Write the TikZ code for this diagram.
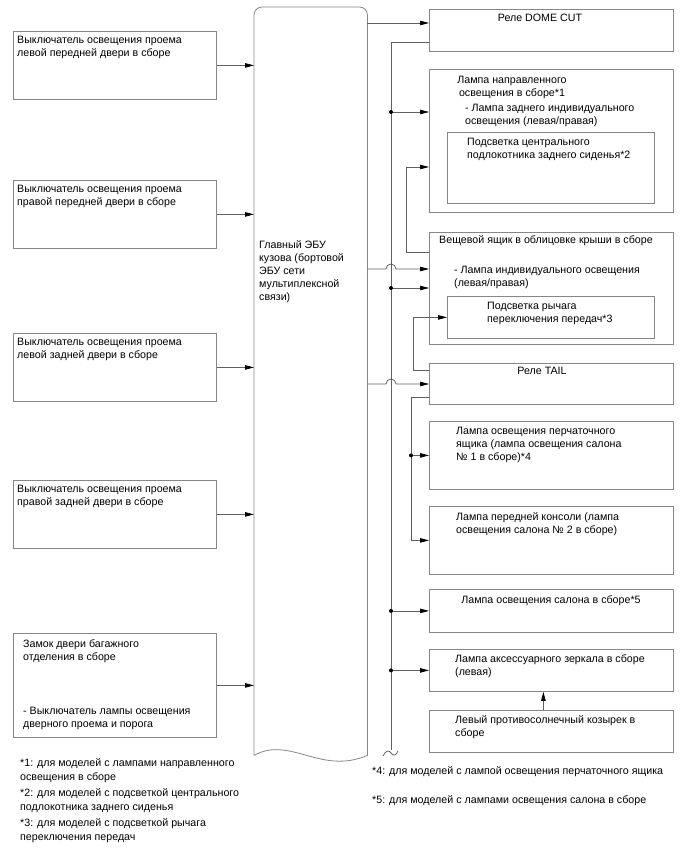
\documentclass[tikz,border=0pt]{standalone}
\usepackage{fontspec}
\setmainfont{Liberation Sans}
\usetikzlibrary{positioning,arrows.meta,calc}
\definecolor{linegray}{RGB}{95,95,95}
\definecolor{boxgray}{RGB}{135,135,135}

\begin{document}
\begin{tikzpicture}[
    x=1pt, y=-1pt,
    font=\fontsize{10.67}{13}\selectfont,
    lbox/.style={draw=boxgray, line width=0.8pt, anchor=north west, inner sep=0pt, minimum width=203pt, minimum height=#1},
    rbox/.style={draw=boxgray, line width=0.8pt, anchor=north west, inner sep=0pt, minimum width=244pt, minimum height=#1},
    ibox/.style={draw=boxgray, line width=0.8pt, anchor=north west, inner sep=0pt, minimum width=207pt, minimum height=#1},
    txt/.style={anchor=north west, inner sep=0pt, align=left},
    ctxt/.style={anchor=north, inner sep=0pt, align=center},
    note/.style={txt, font=\fontsize{10.67}{14}\selectfont},
    conn/.style={draw=linegray, line width=0.8pt},
    arr/.style={conn, -{Triangle[length=9pt,width=4.5pt,color=black]}},
    dot/.style={fill=black}
]
\useasboundingbox (0,0) rectangle (688,852);

% door switches
\node[lbox=68pt] (sw1) at (13,31) {};
\node[lbox=68pt] (sw2) at (13,180) {};
\node[lbox=68pt] (sw3) at (13,333) {};
\node[lbox=68pt] (sw4) at (13,480) {};
\node[lbox=104pt] (sw5) at (13,633) {};
\node[txt] (sw1t) at (17,36) {Выключатель освещения проема\\левой передней двери в сборе};
\node[txt] (sw2t) at (17,185) {Выключатель освещения проема\\правой передней двери в сборе};
\node[txt] (sw3t) at (17,338) {Выключатель освещения проема\\левой задней двери в сборе};
\node[txt] (sw4t) at (17,485) {Выключатель освещения проема\\правой задней двери в сборе};
\node[txt] (sw5t) at (23,639) {Замок двери багажного\\отделения в сборе\\[41pt]- Выключатель лампы освещения\\дверного проема и порога};

% main body ECU
\node[anchor=north west, inner sep=0pt, minimum width=113pt, minimum height=748pt] (ecu) at (254,7) {};
\draw[draw=boxgray, line width=0.8pt] (ecu.south west) [rounded corners=8pt] -- (ecu.north west) -- (ecu.north east) [sharp corners] -- (ecu.south east)
    .. controls ($(ecu.south east)+(-47,20)$) and ($(ecu.south west)+(36,-20)$) .. (ecu.south west);
\node[txt] (ecut) at (259,240) {Главный ЭБУ\\кузова (бортовой\\ЭБУ сети\\мультиплексной\\связи)};

% lamps and relays
\node[rbox=42pt] (dome) at (429,9) {};
\node[rbox=143pt] (dir) at (429,69) {};
\node[ibox=71pt] (arm) at (447,132) {};
\node[rbox=112pt] (roof) at (429,232) {};
\node[ibox=42pt] (gear) at (447,296) {};
\node[rbox=41pt] (tail) at (429,363) {};
\node[rbox=68pt] (glove) at (429,421) {};
\node[rbox=68pt] (console) at (429,506) {};
\node[rbox=43pt] (salon) at (429,589) {};
\node[rbox=42pt] (mirror) at (429,649) {};
\node[rbox=42pt] (visor) at (429,710) {};

\node[ctxt] (domet) at (540,14) {Реле DOME CUT};
\node[ctxt] (dirt) at (512,76) {Лампа направленного\\освещения в сборе*1};
\node[txt] (dirs) at (465,104) {- Лампа заднего индивидуального\\освещения (левая/правая)};
\node[txt] (armt) at (467,138) {Подсветка центрального\\подлокотника заднего сиденья*2};
\node[txt] (rooft) at (439,235) {Вещевой ящик в облицовке крыши в сборе};
\node[txt] (roofs) at (454,266) {- Лампа индивидуального освещения\\(левая/правая)};
\node[txt] (geart) at (487,302) {Подсветка рычага\\переключения передач*3};
\node[ctxt] (tailt) at (542,367) {Реле TAIL};
\node[txt] (glovet) at (456,427) {Лампа освещения перчаточного\\ящика (лампа освещения салона\\№ 1 в сборе)*4};
\node[txt] (consolet) at (456,512) {Лампа передней консоли (лампа\\освещения салона № 2 в сборе)};
\node[ctxt] (salont) at (551,595) {Лампа освещения салона в сборе*5};
\node[txt] (mirrort) at (455,654) {Лампа аксессуарного зеркала в сборе\\(левая)};
\node[txt] (visort) at (455,715) {Левый противосолнечный козырек в\\сборе};

% ports
\coordinate (busend) at (391,750);
\coordinate (domea) at ($(dome.north west)+(0,14)$);
\coordinate (domeb) at ($(dome.north west)+(0,33)$);
\coordinate (dira) at ($(dir.north west)+(0,43)$);
\coordinate (dirb) at ($(dir.north west)+(0,98)$);
\coordinate (roofa) at ($(roof.north west)+(0,20)$);
\coordinate (roofb) at ($(roof.north west)+(0,37)$);
\coordinate (roofc) at ($(roof.north west)+(0,56)$);
\coordinate (taila) at ($(tail.north west)+(0,7)$);
\coordinate (tailb) at ($(tail.north west)+(0,21)$);
\coordinate (tailc) at ($(tail.north west)+(0,34)$);
\coordinate (lampbus) at ($(tailc)+(-18,0)$);

% switches to ECU
\foreach \n in {sw1,sw2,sw3,sw4,sw5}
    \draw[arr] (\n.east) -- (\n.east -| ecu.west);

% ECU outputs
\draw[arr] (domea -| ecu.east) -- (domea);
\draw[arr] (roofb -| ecu.east) -- ($(roofb -| busend)+(-5,0)$) arc[start angle=180, end angle=0, radius=5pt] -- (roofb);
\draw[arr] (tailb -| ecu.east) -- ($(tailb -| busend)+(-5,0)$) arc[start angle=180, end angle=0, radius=5pt] -- (tailb);

% DOME CUT line
\draw[conn] (domeb) -| (busend);
\draw[conn] ($(busend)+(-8,6)$) .. controls ($(busend)+(-5,0)$) and ($(busend)+(-2,0)$) .. ($(busend)+(0,3)$)
    .. controls ($(busend)+(2,6)$) and ($(busend)+(5,6)$) .. ($(busend)+(7,1)$);
\foreach \p in {dira,roofc,salon.west,mirror.west} {
    \draw[arr] (\p -| busend) -- (\p);
    \fill[dot] (\p -| busend) circle[radius=2pt];
}
\draw[arr] (roofa) -- ($(roofa)+(-23,0)$) |- (dirb);

% TAIL lines
\draw[arr] (taila) -- ($(taila)+(-16,0)$) |- (gear.west);
\draw[arr] (tailc) -- (lampbus) |- (console.west);
\draw[arr] (glove.west -| lampbus) -- (glove.west);
\fill[dot] (glove.west -| lampbus) circle[radius=2pt];

\draw[arr] ($(visor.north)+(-8,0)$) -- ($(mirror.south)+(-8,0)$);

% notes
\node[note] (fn1) at (20,758) {*1: для моделей с лампами направленного\\освещения в сборе};
\node[note] (fn2) at (20,788) {*2: для моделей с подсветкой центрального\\подлокотника заднего сиденья};
\node[note] (fn3) at (20,818) {*3: для моделей с подсветкой рычага\\переключения передач};
\node[note] (fn4) at (372,766) {*4: для моделей с лампой освещения перчаточного ящика};
\node[note] (fn5) at (372,795) {*5: для моделей с лампами освещения салона в сборе};

\end{tikzpicture}
\end{document}
